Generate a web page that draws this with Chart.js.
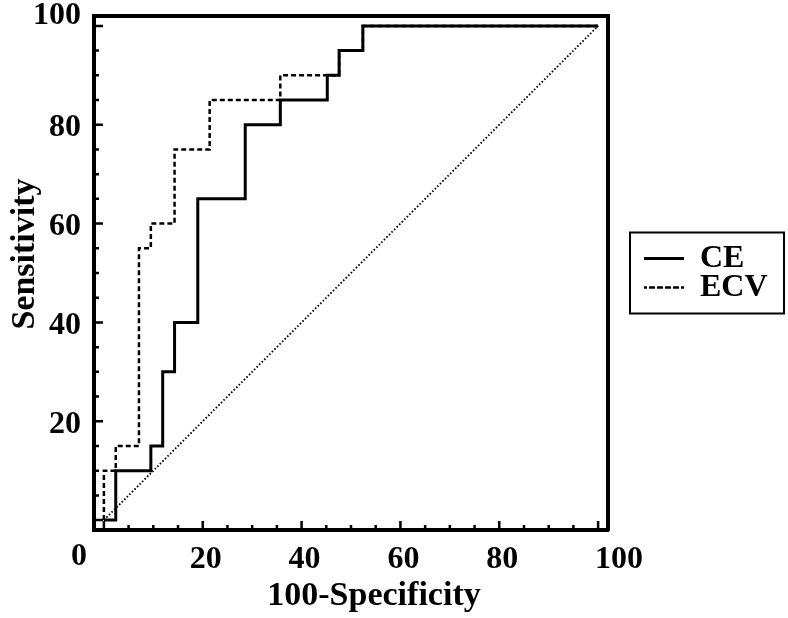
<!DOCTYPE html>
<html>
<head>
<meta charset="utf-8">
<script src="https://cdn.jsdelivr.net/npm/chart.js@4.4.1/dist/chart.umd.min.js"></script>
<style>
html,body{margin:0;padding:0;background:#fff;}
canvas{display:block;}
</style>
</head>
<body>
<canvas id="c" width="788" height="618"></canvas>
<script>
// ---- data ----
const seriesNames = ['CE', 'ECV'];
const ceFpr  = [0, 2.4, 9.5, 11.9, 14.3, 19.0, 28.6, 35.7, 45.2, 47.6, 52.4, 100];
const ceSens = [0, 10, 15, 30, 40, 65, 80, 85, 90, 95, 100, 100];
const ecvFpr  = [0, 0, 2.4, 7.1, 9.5, 14.3, 21.4, 35.7, 47.6, 52.4, 100];
const ecvSens = [0, 10, 15, 55, 60, 75, 85, 90, 95, 100, 100];
const refFpr  = [0, 100];
const refSens = [0, 100];

const xTickValues = [0, 20, 40, 60, 80, 100];
const xTickLabels = ['0', '20', '40', '60', '80', '100'];
const yTickValues = [20, 40, 60, 80, 100];
const yTickLabels = ['20', '40', '60', '80', '100'];
const tickMarkValues = [0, 5, 10, 15, 20, 25, 30, 35, 40, 45, 50, 55, 60, 65, 70, 75, 80, 85, 90, 95, 100];
const xTitle = '100-Specificity';
const yTitle = 'Sensitivity';

const FAMILY = '"Liberation Serif", "Times New Roman", serif';
const toPts = (xs, ys) => xs.map((v, i) => ({x: v, y: ys[i]}));

const decor = {
  id: 'decor',
  afterDatasetsDraw(chart) {
    const {ctx, scales: {x, y}} = chart;
    ctx.save();
    ctx.strokeStyle = '#000';
    ctx.lineWidth = 2.5;
    ctx.lineCap = 'butt';
    ctx.beginPath();
    tickMarkValues.forEach(v => {
      const len = v % 20 === 0 ? 9 : 5;
      const px = x.getPixelForValue(v);
      ctx.moveTo(px, x.top);
      ctx.lineTo(px, x.top - len);
      const py = y.getPixelForValue(v);
      ctx.moveTo(y.right, py);
      ctx.lineTo(y.right + len, py);
    });
    ctx.stroke();
    ctx.restore();
  },
  afterDraw(chart) {
    const {ctx, scales: {x, y}} = chart;
    ctx.save();
    ctx.fillStyle = '#000';
    ctx.textBaseline = 'alphabetic';
    // x tick labels
    ctx.font = 'bold 32px ' + FAMILY;
    xTickValues.forEach((v, i) => {
      const px = x.getPixelForValue(v);
      if (i === 0) {
        ctx.textAlign = 'right';
        ctx.fillText(xTickLabels[i], px - 17, x.top + 35);
      } else if (i === xTickValues.length - 1) {
        ctx.textAlign = 'left';
        ctx.fillText(xTickLabels[i], px - 3, x.top + 38);
      } else {
        ctx.textAlign = 'center';
        ctx.fillText(xTickLabels[i], px + 3, x.top + 38);
      }
    });
    // axis titles
    ctx.font = 'bold 34px ' + FAMILY;
    ctx.textAlign = 'center';
    ctx.fillText(xTitle, (x.left + x.right) / 2 + 23, x.top + 75);
    ctx.save();
    ctx.translate(34, (y.top + y.bottom) / 2 - 19);
    ctx.rotate(-Math.PI / 2);
    ctx.fillText(yTitle, 0, 0);
    ctx.restore();
    // legend frame
    const lg = chart.legend;
    if (lg && lg.legendHitBoxes && lg.legendHitBoxes.length) {
      const hb = lg.legendHitBoxes;
      const left = hb[0].left - 11;
      const top = hb[0].top - 10;
      const last = hb[hb.length - 1];
      const bottom = last.top + last.height + 10;
      ctx.lineWidth = 2;
      ctx.strokeStyle = '#000';
      ctx.strokeRect(left, top, 154, bottom - top);
    }
    ctx.restore();
  }
};

const noPad = (s) => { s.paddingTop = 0; s.paddingBottom = 0; s.paddingLeft = 0; s.paddingRight = 0; };

const frameAxis = (position, size) => ({
  type: 'linear',
  position: position,
  min: -2, max: 102,
  grid: {display: true, drawOnChartArea: false, drawTicks: false, color: 'rgba(0,0,0,0)'},
  ticks: {display: false},
  border: {display: true, width: 4, color: '#000'},
  afterFit(s) { if (s.isHorizontal()) s.height = size; else s.width = size; noPad(s); }
});

new Chart(document.getElementById('c'), {
  type: 'line',
  data: {
    datasets: [
      {
        label: seriesNames[0],
        data: toPts(ceFpr, ceSens),
        stepped: 'before',
        borderColor: '#000', backgroundColor: 'rgba(0,0,0,0)',
        borderWidth: 3, borderJoinStyle: 'miter', borderCapStyle: 'butt',
        pointRadius: 0, fill: false, xAxisID: 'x', yAxisID: 'y'
      },
      {
        label: seriesNames[1],
        data: toPts(ecvFpr, ecvSens),
        stepped: 'before',
        borderColor: '#000', backgroundColor: 'rgba(0,0,0,0)',
        borderWidth: 2.5, borderDash: [5, 3], borderJoinStyle: 'miter', borderCapStyle: 'butt',
        pointRadius: 0, fill: false, xAxisID: 'x', yAxisID: 'y'
      },
      {
        label: 'reference',
        data: toPts(refFpr, refSens),
        borderColor: '#000', backgroundColor: 'rgba(0,0,0,0)',
        borderWidth: 1.8, borderDash: [1.6, 2], borderCapStyle: 'butt',
        pointRadius: 0, fill: false, xAxisID: 'x', yAxisID: 'y'
      }
    ]
  },
  options: {
    responsive: false,
    animation: false,
    events: [],
    layout: {padding: {left: 0, top: 0, bottom: 0, right: 19}},
    scales: {
      x: {
        type: 'linear', position: 'bottom', min: -2, max: 102,
        grid: {display: true, drawOnChartArea: false, drawTicks: false, color: 'rgba(0,0,0,0)'},
        ticks: {display: false},
        border: {display: true, width: 4, color: '#000'},
        afterFit(s) { s.height = 88; noPad(s); }
      },
      y: {
        type: 'linear', position: 'left', min: -2, max: 102,
        grid: {display: true, drawOnChartArea: false, drawTicks: false, color: 'rgba(0,0,0,0)'},
        border: {display: true, width: 4, color: '#000'},
        afterBuildTicks(s) { s.ticks = yTickValues.map(v => ({value: v})); },
        ticks: {
          autoSkip: false,
          padding: 13,
          labelOffset: 3,
          color: '#000',
          font: (c) => ({family: FAMILY, weight: 'bold', size: 32,
                         lineHeight: (c.tick && c.tick.value === 100) ? '26px' : 1.2}),
          callback: (v) => v === 100 ? [yTickLabels[yTickValues.indexOf(v)], ''] : yTickLabels[yTickValues.indexOf(v)]
        },
        afterFit(s) { s.width = 94; noPad(s); }
      },
      x2: frameAxis('top', 16),
      y2: frameAxis('right', 36)
    },
    plugins: {
      tooltip: {enabled: false},
      legend: {
        position: 'right',
        fullSize: false,
        align: 'center',
        maxWidth: 125,
        labels: {
          boxWidth: 43,
          boxHeight: 0,
          padding: -3,
          color: '#000',
          font: {family: FAMILY, weight: 'bold', size: 32},
          filter: (item) => item.datasetIndex < 2
        }
      }
    }
  },
  plugins: [decor]
});
</script>
</body>
</html>
